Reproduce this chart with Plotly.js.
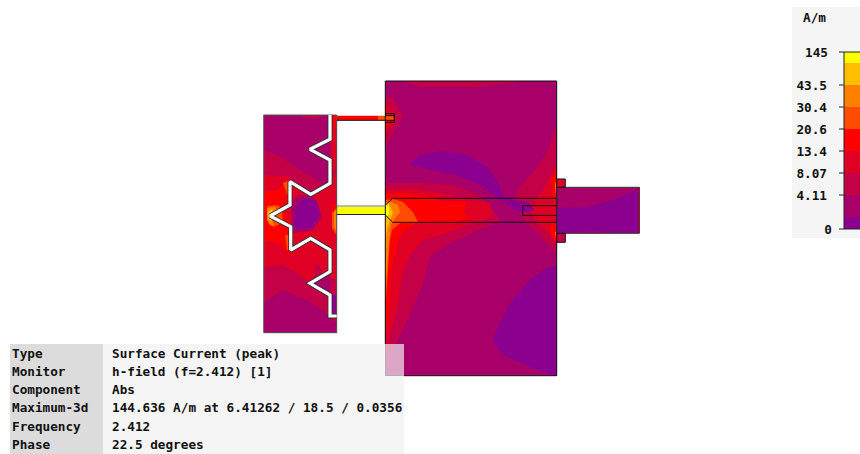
<!DOCTYPE html>
<html><head><meta charset="utf-8">
<script src="https://cdn.plot.ly/plotly-3.0.1.min.js"></script>
<style>html,body{margin:0;padding:0;background:#fff}#c{width:860px;height:454px}</style>
</head><body><div id="c"></div>
<script>
const levelColors=['#8C0090','#A80068','#C40046','#E00024','#FF0000','#FF4C00','#FF8000','#FFBF00','#FFFF00'];
const levelLabels=['0','4.11','8.07','13.4','20.6','30.4','43.5','145'];
const labelPos=[229,195,173,151,129,107,85,52];
const labelRight=[832,827,827,827,827,827,827,828];
const bandEdges=[229,217,195,173,151,129,107,85,63,52];
const infoKeys=['Type','Monitor','Component','Maximum-3d','Frequency','Phase'];
const infoValues=['Surface Current (peak)','h-field (f=2.412) [1]','Abs','144.636 A/m at 6.41262 / 18.5 / 0.0356','2.412','22.5 degrees'];
const infoRows=[354,372,390,408,427,445];

// contour zones: [level, xs, ys] in drawing units
const leftPlate=[
 [1,[264,337,337,264],[115,115,333,333]],
 [2,[300,305,318,323],[115,119,118,115]],
 [2,[330,337,337,330],[115,115,190,185]],
 [2,[264,283,300,325,337,337,327,307,283,264],[150,158,170,185,190,325,313,300,290,302]],
 [3,[264,280,287,295,310,330,337,337,325,316,313,300,283,264],[175,177,175,185,195,185,170,280,275,262,285,275,265,267]],
 [3,[332,337,337,332],[115,115,170,170]],
 [4,[264,277,283,287,295,290,283,293,292,287,280,264],[192,190,185,180,182,203,210,227,243,253,243,240]],
 [4,[332,337,337,332],[205,203,237,227]],
 [4,[333,337,337],[115,115,140]],
 [5,[267,278,282,283,276,268],[206,205,210,222,226,220]],
 [5,[283,287,291,287],[183,181,190,195]],
 [5,[285,291,290,287],[235,235,250,250]],
 [5,[332,337,337,332],[213,208,236,228]],
 [6,[267,275,278,270,275,270,267],[208,207,212,216,227,225,220]],
 [6,[334,337,337,334],[212,208,233,226]],
 [7,[268,272,273,270,272,268],[212,209,213,216,222,218]],
 [1,[291,298,312,318,322,314,293,292],[203,195,195,203,217,230,233,227]],
 [0,[296,305,316,319,312,298,293],[207,198,200,215,227,229,226]],
 [1,[319,330,330,322],[165,165,185,190]],
 [1,[313,330,330,313],[277,275,293,288]],
 [0,[331,336,336,331],[295,295,313,313]]
];
const mainPlate=[
 [1,[385.3,556.7,556.7,385.3],[81,81,375.7,375.7]],
 [2,[400,423,473,513,520],[81,87,87,83,81]],
 [2,[385.3,393,403,393,385.3],[95,98,117,133,148]],
 [3,[385.3,392,395,390,385.3],[103,110,120,127,133]],
 [4,[385.3,390,390,385.3],[113,118,125,128]],
 [2,[556.7,554,547,537,520,513,527,547,556.7],[117,133,153,167,187,203,223,243,253]],
 [3,[556.7,550,543,537,530,537,548,556.7],[163,177,190,198,210,222,233,240]],
 [4,[556.7,552,552,556.7],[170,180,195,199]],
 [4,[556.7,550,552,556.7],[222,225,238,242]],
 [6,[556.7,555,556,556.7],[178,185,195,196]],
 [6,[556.7,555,556,556.7],[230,233,238,240]],
 [2,[385.3,423,453,480,493,500,498,473,450,430,423,403,390,385.3],[183,183,185,195,210,220,222,233,243,257,283,330,353,367]],
 [3,[385.3,413,440,467,490,492,473,447,423,410,403,397,390,385.3],[190,189,193,200,203,217,223,233,240,255,272,310,333,350]],
 [4,[385.3,400,430,443,467,463,470,452,418,405,398,392,390,387,385.3],[195,193,197,202,202,212,217,223,222,230,240,265,297,327,340]],
 [5,[385.3,393,403,413,418,400,392,390,388,386,385.3],[200,199,202,212,222,223,230,240,270,303,310]],
 [6,[385.3,392,398,400,395,391,389,387,385.3],[202,202,205,212,218,225,243,270,290]],
 [7,[385.3,389,393,390,387,386,385.3],[203,203,213,220,230,243,243]],
 [8,[385.3,389,389,385.3],[205,207,214,218]],
 [0,[409,420,443,467,487,498,504,527,535,522,512,498,480,457,430],[164,155,151,155,167,182,198,202,210,213,208,198,185,175,170]],
 [0,[556.7,547,530,510,495,493,503,537,556.7],[267,267,280,303,333,342,355,370,376]]
];
const stubBox=[
 [1,[556.7,639,639,556.7],[187.3,187.3,233.3,233.3]],
 [0,[556.7,587,613,639,639,620,590,570,556.7],[208,207,200,188,233,233,231,233,232]],
 [3,[556.7,565.3,565.3,556.7],[179,179,187.3,187.3]],
 [2,[556.7,565.3,565.3,556.7],[233.3,233.3,242.3,242.3]],
 [4,[639,640,640,639],[187,187,233.5,233.5]]
];
const feedYellow=[[8,[336.7,385.3,385.3,336.7],[207,207,214.3,214.3]]];
const feedRed=[
 [4,[336.7,378,378,336.7],[115.7,115.7,120.3,120.3]],
 [5,[378,394.3,394.3,378],[115.7,115.7,120.3,120.3]]
];
const slotX=[330,330,310,330,330,310.7,290,290,270,290.7,290.7,310.7,330,330,310,330,330,336.7];
const slotY=[115,139.3,149.3,160,183.3,194.3,181.7,205,216,226.7,250,238.3,250,271.7,283.3,295,316,316];
const plateOutlines=[
 ['#555555',[263.7,336.7,336.7,263.7,263.7],[115,115,332.7,332.7,115]],
 ['#111111',[385.3,556.7,556.7,385.3,385.3],[81,81,375.7,375.7,81]],
 ['#333333',[556.7,639,639,556.7,556.7],[187.3,187.3,233.3,233.3,187.3]],
 ['#111111',[556.7,565.3,565.3,556.7],[179,179,187.3,187.3]],
 ['#111111',[556.7,565.3,565.3,556.7],[233.3,233.3,242.3,242.3]],
 ['#111111',[385.3,392.7,556.7],[205,198.3,198.3]],
 ['#111111',[385.3,392.7,556.7],[215,222.3,222.3]],
 ['#111111',[556.7,522.7,522.7,556.7],[205.7,205.7,215.3,215.3]],
 ['#111111',[336.7,394.3,394.3,385.3],[120.3,120.3,113.7,113.7]],
 ['#111111',[385.3,394.3,394.3,385.3],[122.3,122.3,115.7,115.7]],
 ['#222222',[336.7,385.3],[214.5,214.5]],
 ['#777755',[336.7,385.3],[206,206]]
];
const panelInfoX=[10,385,385,404,404,10];
const panelInfoY=[344,344,376,376,454,454];
const panelKeysX=[10,103,103,10];
const panelKeysY=[344,344,454,454];
const panelVeilX=[385,404,404,385];
const panelVeilY=[344,344,376,376];
const panelLegendX=[792,860,860,792];
const panelLegendY=[7,7,238,238];
const barLeft=844, barRight=860;

const FONT='"DejaVu Sans Mono", monospace';
const traces=[];
function area(xs,ys,col){traces.push({type:'scatter',mode:'lines',x:xs.concat(xs[0]),y:ys.concat(ys[0]),fill:'toself',fillcolor:col,line:{width:0},hoverinfo:'skip'});}
function stroke(xs,ys,col,w){traces.push({type:'scatter',mode:'lines',x:xs,y:ys,line:{color:col,width:w},hoverinfo:'skip'});}
function words(xs,ys,t,pos,col,size){traces.push({type:'scatter',mode:'text',x:xs,y:ys,text:t,textposition:pos,textfont:{family:FONT,size:size,color:col,weight:700},hoverinfo:'skip'});}

[...leftPlate,...mainPlate,...stubBox,...feedYellow,...feedRed].forEach(z=>area(z[1],z[2],levelColors[z[0]]));
plateOutlines.forEach(o=>stroke(o[1],o[2],o[0],1));
stroke(slotX,slotY,'#333333',5);
stroke(slotX,slotY,'#ffffff',3.2);

area(panelLegendX,panelLegendY,'#f5f5f5');
area(panelInfoX,panelInfoY,'#f5f5f5');
area(panelKeysX,panelKeysY,'#dcdcdc');
area(panelVeilX,panelVeilY,'rgba(245,245,245,0.68)');

levelColors.forEach((c,i)=>area([barLeft,barRight,barRight,barLeft],[bandEdges[i],bandEdges[i],bandEdges[i+1],bandEdges[i+1]],c));
stroke([844,844],[52,229],'#222222',1);
stroke([844,860],[52,52],'#222222',1);
stroke([844,860],[229,229],'#222222',1);
labelPos.forEach(p=>stroke([839,844],[p,p],'#222222',1));

words(infoKeys.map(()=>12),infoRows.map(v=>v+1),infoKeys,'middle right','#111111',12.7);
words(infoValues.map(()=>112),infoRows.map(v=>v+1),infoValues,'middle right','#111111',12.7);
words(labelRight,labelPos.map(v=>v+1.5),levelLabels,'middle left','#111111',12.7);
words([826],[19],['A/m'],'middle left','#111111',12.7);

Plotly.newPlot('c',traces,{
 width:860,height:454,margin:{l:0,r:0,t:0,b:0},showlegend:false,
 paper_bgcolor:'#ffffff',plot_bgcolor:'#ffffff',
 xaxis:{range:[0,860],visible:false,fixedrange:true},
 yaxis:{range:[454,0],visible:false,fixedrange:true}
},{staticPlot:true,displayModeBar:false});
</script></body></html>
